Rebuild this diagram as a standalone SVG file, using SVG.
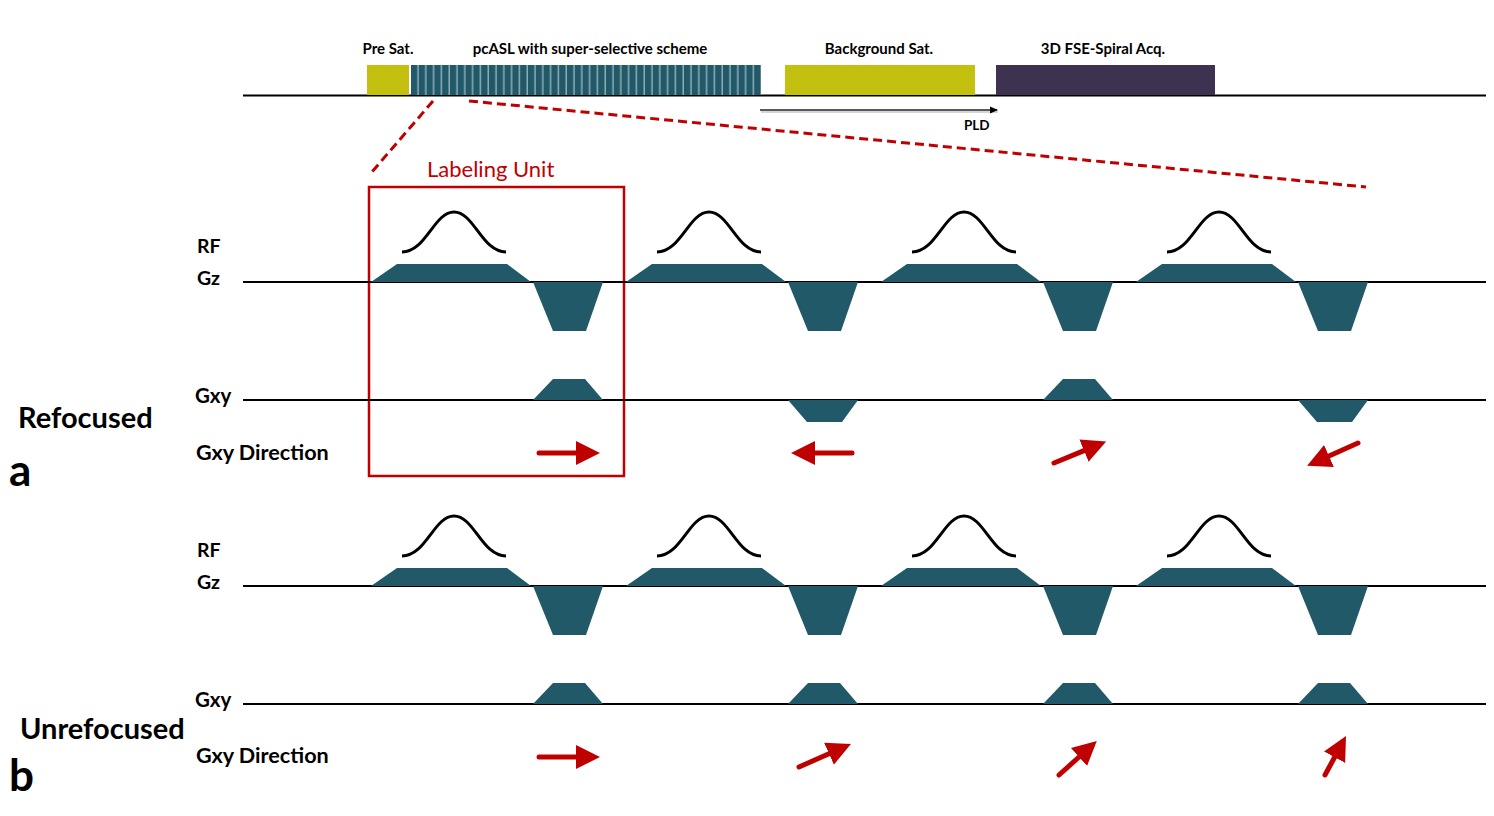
<svg xmlns="http://www.w3.org/2000/svg" xmlns:xlink="http://www.w3.org/1999/xlink" width="1494" height="816" viewBox="0 0 1494 816">
<style>
.lbl{font-family:Lato,"Liberation Sans",sans-serif;font-weight:bold;fill:#000}
.top{font-size:15px;text-anchor:middle}
.axis{stroke:#000;stroke-width:2;fill:none}
.grad{fill:#215968}
.rf{fill:none;stroke:#000;stroke-width:3}
.arr{stroke:#c00000;stroke-width:5;stroke-linecap:round;fill:none;marker-end:url(#ah)}
.dash{stroke:#c00000;stroke-width:3;stroke-dasharray:9,5;fill:none}
</style>
<defs>
<marker id="ah" markerUnits="userSpaceOnUse" markerWidth="26" markerHeight="26" refX="0" refY="12" orient="auto" viewBox="0 0 26 24">
<path d="M0,0 L24,12 L0,24 Z" fill="#c00000"/>
</marker>
<marker id="pldh" markerUnits="userSpaceOnUse" markerWidth="8" markerHeight="8" refX="7" refY="4" orient="auto" viewBox="0 0 8 8">
<path d="M0,0.5 L8,4 L0,7.5 Z" fill="#000"/>
</marker>
<pattern id="stripes" patternUnits="userSpaceOnUse" x="411" y="0" width="7.8" height="10">
<rect x="0" y="0" width="7.8" height="10" fill="#215968"/>
<rect x="6.3" y="0" width="2.1" height="10" fill="#8aaeb5"/>
</pattern>
<path id="rfp" class="rf" d="M402,252 C426,252 434,212 454,212 C474,212 482,252 506,252"/>
<g id="gz">
<polygon class="grad" points="371,282 397,264 507,264 531,282"/>
<polygon class="grad" points="533,282 553,331 586,331 603,282"/>
</g>
<polygon id="gxp" class="grad" points="533,400 553,379 585,379 603,400"/>
<polygon id="gxn" class="grad" points="533,400 552,422 587,422 603,400"/>
</defs>

<g id="timeline">
<line class="axis" x1="243" y1="95.5" x2="1486" y2="95.5"/>
<g id="presat"><rect x="367" y="65" width="42" height="30" fill="#c3c00f"/><text class="lbl top" x="388" y="54">Pre Sat.</text></g>
<g id="pcasl"><rect x="411" y="65" width="350" height="30" fill="url(#stripes)"/><text class="lbl top" x="590" y="54">pcASL with super-selective scheme</text></g>
<g id="bgsat"><rect x="785" y="65" width="190" height="30" fill="#c3c00f"/><text class="lbl top" x="879" y="54">Background Sat.</text></g>
<g id="acq"><rect x="996" y="65" width="219" height="30" fill="#3f3150"/><text class="lbl top" x="1103" y="54">3D FSE-Spiral Acq.</text></g>
<g id="pld">
<line x1="761" y1="112" x2="998" y2="112" stroke="#bbb" stroke-width="2" opacity="0.6"/>
<line x1="760" y1="110" x2="997" y2="110" stroke="#222" stroke-width="1.5" marker-end="url(#pldh)"/>
<text class="lbl" x="964" y="130" font-size="13.5">PLD</text>
</g>
</g>

<g id="zoom-lines">
<line class="dash" x1="433" y1="101" x2="371" y2="173"/>
<line class="dash" x1="469" y1="101" x2="1366" y2="187"/>
</g>

<g id="labeling-unit">
<rect x="369" y="187" width="255" height="289" fill="none" stroke="#c00000" stroke-width="2.5"/>
<text x="427" y="177" font-family="Lato,'Liberation Sans',sans-serif" font-size="22" fill="#c00000">Labeling Unit</text>
</g>

<g id="row-a">
<text class="lbl" x="18" y="428" font-size="29">Refocused</text>
<text class="lbl" x="9" y="486" font-size="44">a</text>
<text class="lbl" x="197" y="253" font-size="19.5">RF</text>
<text class="lbl" x="197" y="285" font-size="19.5">Gz</text>
<text class="lbl" x="195" y="403" font-size="20.5">Gxy</text>
<text class="lbl" x="196" y="460" font-size="21.6">Gxy Direction</text>
<line class="axis" x1="243" y1="282" x2="1486" y2="282"/>
<line class="axis" x1="243" y1="400" x2="1486" y2="400"/>
<use xlink:href="#gz"/><use xlink:href="#gz" x="255"/><use xlink:href="#gz" x="510"/><use xlink:href="#gz" x="765"/>
<use xlink:href="#rfp"/><use xlink:href="#rfp" x="255"/><use xlink:href="#rfp" x="510"/><use xlink:href="#rfp" x="765"/>
<use xlink:href="#gxp"/><use xlink:href="#gxn" x="255"/><use xlink:href="#gxp" x="510"/><use xlink:href="#gxn" x="765"/>
</g>

<g id="row-b">
<text class="lbl" x="20" y="739" font-size="29">Unrefocused</text>
<text class="lbl" x="9" y="791" font-size="44">b</text>
<text class="lbl" x="197" y="557" font-size="19.5">RF</text>
<text class="lbl" x="197" y="589" font-size="19.5">Gz</text>
<text class="lbl" x="195" y="707" font-size="20.5">Gxy</text>
<text class="lbl" x="196" y="763" font-size="21.6">Gxy Direction</text>
<line class="axis" x1="243" y1="586" x2="1486" y2="586"/>
<line class="axis" x1="243" y1="704" x2="1486" y2="704"/>
<g transform="translate(0,304)">
<use xlink:href="#gz"/><use xlink:href="#gz" x="255"/><use xlink:href="#gz" x="510"/><use xlink:href="#gz" x="765"/>
<use xlink:href="#rfp"/><use xlink:href="#rfp" x="255"/><use xlink:href="#rfp" x="510"/><use xlink:href="#rfp" x="765"/>
<use xlink:href="#gxp"/><use xlink:href="#gxp" x="255"/><use xlink:href="#gxp" x="510"/><use xlink:href="#gxp" x="765"/>
</g>
</g>

<g id="arrows">
<line class="arr" x1="539" y1="453" x2="576" y2="453"/>
<line class="arr" x1="852" y1="453" x2="815" y2="453"/>
<line class="arr" x1="1054" y1="463" x2="1084" y2="450.6"/>
<line class="arr" x1="1358" y1="443" x2="1329" y2="456"/>
<line class="arr" x1="539" y1="757" x2="576" y2="757"/>
<line class="arr" x1="799" y1="767" x2="829" y2="753.7"/>
<line class="arr" x1="1059" y1="775" x2="1079" y2="757"/>
<line class="arr" x1="1325" y1="775" x2="1334.6" y2="757.2"/>
</g>
</svg>
